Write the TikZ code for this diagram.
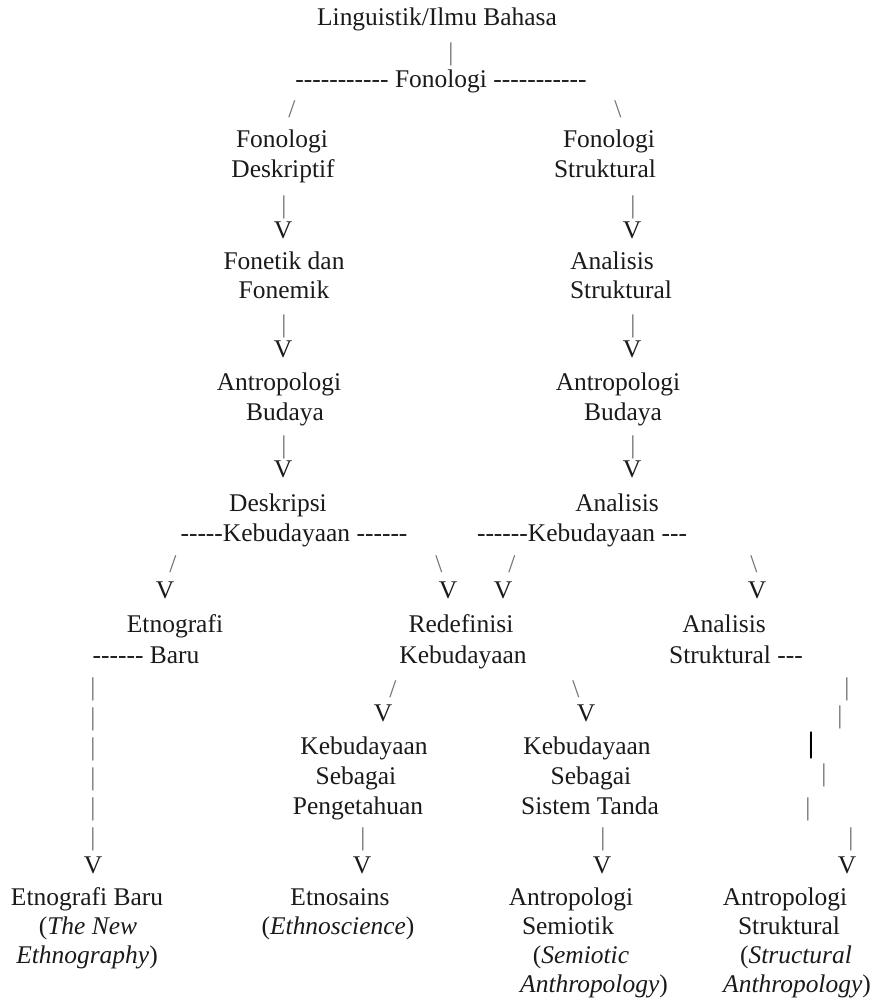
\documentclass[tikz,border=0pt]{standalone}
\usepackage{fontspec}
\newfontfamily\tnr{Liberation Serif}
\definecolor{inkgray}{HTML}{1A1A1A}
\definecolor{stemgray}{HTML}{707070}
\usepackage{tikz}
\usetikzlibrary{positioning}
\tikzset{
	lbl/.style={
			font=\tnr\fontsize{19.1}{22}\selectfont,
			text=inkgray,
			inner sep=0pt,
			text height=1.08em,
			text depth=0.22em
		},
	vmark/.style={
			lbl
		},
	barmark/.style={
			lbl,
			text=stemgray
		},
	heavybar/.style={
			lbl,
			font=\tnr\bfseries\fontsize{22}{24}\selectfont,
			text=black
		}
}

\begin{document}
\begin{tikzpicture}[x=0.75pt, y=-0.75pt]
\useasboundingbox (0,0) rectangle (874,1005);
\node[lbl] (t0) at (437,20) {Linguistik/Ilmu Bahasa};
\node[barmark] (b0) at (451,55) {|};
\node[lbl] (f0) at (441,82) {----------- Fonologi -----------};
\node[barmark] (sl1) at (292,112) {/};
\node[barmark] (bs1) at (618,112) {\textbackslash};

% left branch
\node[lbl] (l1a) at (282,142) {Fonologi};
\node[lbl] (l1b) at (283,172) {Deskriptif};
\node[barmark] (bl1) at (284,208) {|};
\node[vmark] (vl1) at (283,233) {V};
\node[lbl] (l2a) at (284,264) {Fonetik dan};
\node[lbl] (l2b) at (284,293) {Fonemik};
\node[barmark] (bl2) at (284,327) {|};
\node[vmark] (vl2) at (283,352) {V};
\node[lbl] (l3a) at (279,385) {Antropologi};
\node[lbl] (l3b) at (285,415) {Budaya};
\node[barmark] (bl3) at (284,448) {|};
\node[vmark] (vl3) at (283,472) {V};
\node[lbl] (l4a) at (278,506) {Deskripsi};
\node[lbl] (l4b) at (294,536) {-----Kebudayaan ------};

% right branch
\node[lbl] (r1a) at (609,142) {Fonologi};
\node[lbl] (r1b) at (605,172) {Struktural};
\node[barmark] (br1) at (633,208) {|};
\node[vmark] (vr1) at (632,233) {V};
\node[lbl] (r2a) at (612,264) {Analisis};
\node[lbl] (r2b) at (621,293) {Struktural};
\node[barmark] (br2) at (633,327) {|};
\node[vmark] (vr2) at (632,352) {V};
\node[lbl] (r3a) at (618,385) {Antropologi};
\node[lbl] (r3b) at (623,415) {Budaya};
\node[barmark] (br3) at (633,448) {|};
\node[vmark] (vr3) at (632,472) {V};
\node[lbl] (r4a) at (617,506) {Analisis};
\node[lbl] (r4b) at (582,536) {------Kebudayaan ---};

% third level
\node[barmark] (sl2) at (173,567) {/};
\node[vmark] (ve1) at (165,593) {V};
\node[lbl] (e1a) at (175,627) {Etnografi};
\node[lbl] (e1b) at (146,658) {------ Baru};
\node[barmark] (bs2) at (439,567) {\textbackslash};
\node[vmark] (vd1) at (448,593) {V};
\node[barmark] (sl3) at (512,567) {/};
\node[vmark] (vd2) at (503,593) {V};
\node[lbl] (d1a) at (461,627) {Redefinisi};
\node[lbl] (d1b) at (463,658) {Kebudayaan};
\node[barmark] (bs3) at (754,567) {\textbackslash};
\node[vmark] (va1) at (757,593) {V};
\node[lbl] (a1a) at (724,627) {Analisis};
\node[lbl] (a1b) at (736,658) {Struktural ---};

% long left stem
\foreach \y [count=\i] in {690,720,750,780,810,840}
  \node[barmark] (be\i) at (93,\y) {|};
\node[vmark] (ve2) at (93,868) {V};

% split of Redefinisi
\node[barmark] (sl4) at (393,692) {/};
\node[vmark] (vk1) at (383,716) {V};
\node[barmark] (bs4) at (576,692) {\textbackslash};
\node[vmark] (vk2) at (586,716) {V};
\node[lbl] (k1a) at (364,749) {Kebudayaan};
\node[lbl] (k1b) at (356,779) {Sebagai};
\node[lbl] (k1c) at (358,809) {Pengetahuan};
\node[lbl] (k2a) at (587,749) {Kebudayaan};
\node[lbl] (k2b) at (591,779) {Sebagai};
\node[lbl] (k2c) at (590,809) {Sistem Tanda};
\node[barmark] (bk1) at (363,840) {|};
\node[vmark] (vk3) at (362,868) {V};
\node[barmark] (bk2) at (603,840) {|};
\node[vmark] (vk4) at (602,868) {V};

% ragged right stem
\node[barmark] (bz1) at (847,690) {|};
\node[barmark] (bz2) at (840,718) {|};
\node[heavybar] (bz3) at (811,747) {|};
\node[barmark] (bz4) at (824,776) {|};
\node[barmark] (bz5) at (808,810) {|};
\node[barmark] (bz6) at (851,840) {|};
\node[vmark] (vz1) at (847,868) {V};

% leaves
\node[lbl] (p1a) at (87,900) {Etnografi Baru};
\node[lbl] (p1b) at (88,929) {(\textit{The New}};
\node[lbl] (p1c) at (87,958) {\textit{Ethnography})};
\node[lbl] (p2a) at (340,900) {Etnosains};
\node[lbl] (p2b) at (338,929) {(\textit{Ethnoscience})};
\node[lbl] (p3a) at (571,900) {Antropologi};
\node[lbl] (p3b) at (568,929) {Semiotik};
\node[lbl] (p3c) at (581,958) {(\textit{Semiotic}};
\node[lbl] (p3d) at (594,987) {\textit{Anthropology})};
\node[lbl] (p4a) at (785,900) {Antropologi};
\node[lbl] (p4b) at (789,929) {Struktural};
\node[lbl] (p4c) at (796,958) {(\textit{Structural}};
\node[lbl] (p4d) at (797,987) {\textit{Anthropology})};
\end{tikzpicture}
\end{document}
